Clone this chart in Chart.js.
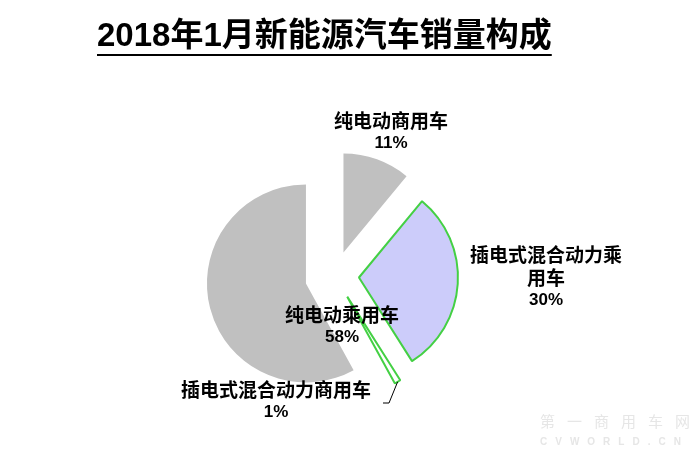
<!DOCTYPE html>
<html>
<head>
<meta charset="utf-8">
<script src="https://cdn.jsdelivr.net/npm/chart.js@4"></script>
<style>
  html, body { margin: 0; padding: 0; background: #fff; }
  #wrap { position: relative; width: 700px; height: 458px; }
</style>
</head>
<body>
<div id="wrap"><canvas id="pie"></canvas></div>
<script>
const chartTitle = '2018年1月新能源汽车销量构成';
const categories = ['纯电动商用车', '插电式混合动力乘用车', '插电式混合动力商用车', '纯电动乘用车'];
const shares = [11, 30, 1, 58];
const shareLabels = ['11%', '30%', '1%', '58%'];
// category names wrapped the way the original shows them
const labelLines = [
  ['纯电动商用车'],
  ['插电式混合动力乘', '用车'],
  ['插电式混合动力商用车'],
  ['纯电动乘用车']
];

// styling
const sliceFill = ['#c0c0c0', '#ccccfa', '#ffffff', '#c0c0c0'];
const sliceBorder = ['#c0c0c0', '#44d044', '#44d044', '#c0c0c0'];
const sliceBorderWidth = [0, 2, 2, 0];
const explode = [25, 24, 24, 30];          // how far each slice is pulled out
const labelPos = [[391, 121], [546, 255], [276, 390], [342, 315]];
const lineStep = 22.5;

const cjk = '"Noto Sans CJK SC", "Liberation Sans", sans-serif';

// pull slices out along their middle angle (offset option also grows the radius)
const explodePlugin = {
  id: 'explode',
  afterDatasetUpdate(chart, args) {
    args.meta.data.forEach((arc, i) => {
      const mid = (arc.startAngle + arc.endAngle) / 2;
      arc.x += Math.cos(mid) * explode[i];
      arc.y += Math.sin(mid) * explode[i];
    });
  }
};

const textPlugin = {
  id: 'texts',
  afterDraw(chart) {
    const ctx = chart.ctx;
    ctx.save();

    // title with underline
    ctx.fillStyle = '#000';
    ctx.textAlign = 'left';
    ctx.textBaseline = 'middle';
    ctx.font = 'bold 33px "Liberation Sans", "Noto Sans CJK SC", sans-serif';
    const tw = ctx.measureText(chartTitle).width;
    ctx.fillText(chartTitle, 97, 37);
    ctx.fillRect(97, 54, tw, 2);

    // slice labels
    ctx.textAlign = 'center';
    labelLines.forEach((lines, i) => {
      const [x, y] = labelPos[i];
      ctx.font = 'bold 19px ' + cjk;
      lines.forEach((t, k) => ctx.fillText(t, x, y + k * lineStep));
      ctx.font = 'bold 17px "Liberation Sans", sans-serif';
      ctx.fillText(shareLabels[i], x, y + lines.length * lineStep);
    });

    // leader line for the 1% slice
    const arc = chart.getDatasetMeta(0).data[2];
    const mid = (arc.startAngle + arc.endAngle) / 2;
    const ex = arc.x + Math.cos(mid) * arc.outerRadius;
    const ey = arc.y + Math.sin(mid) * arc.outerRadius;
    ctx.strokeStyle = '#000';
    ctx.lineWidth = 1;
    ctx.beginPath();
    ctx.moveTo(383, 403);
    ctx.lineTo(389, 403);
    ctx.lineTo(ex, ey);
    ctx.stroke();

    // faint watermark
    ctx.fillStyle = '#e6e6e6';
    ctx.textAlign = 'left';
    ctx.font = '15px ' + cjk;
    ctx.letterSpacing = '12px';
    ctx.fillText('第一商用车网', 540, 421);
    ctx.font = 'bold 10px "Liberation Sans", sans-serif';
    ctx.letterSpacing = '8px';
    ctx.fillText('CVWORLD.CN', 540, 442);
    ctx.restore();
  }
};

new Chart(document.getElementById('pie'), {
  type: 'pie',
  data: {
    labels: categories,
    datasets: [{
      data: shares,
      backgroundColor: sliceFill,
      borderColor: sliceBorder,
      borderWidth: sliceBorderWidth,
      radius: 99
    }]
  },
  options: {
    responsive: true,
    maintainAspectRatio: false,
    animation: false,
    events: [],
    layout: { padding: { left: 0, right: 30, top: 94, bottom: 0 } },
    plugins: {
      legend: { display: false },
      tooltip: { enabled: false }
    }
  },
  plugins: [explodePlugin, textPlugin]
});
</script>
</body>
</html>
